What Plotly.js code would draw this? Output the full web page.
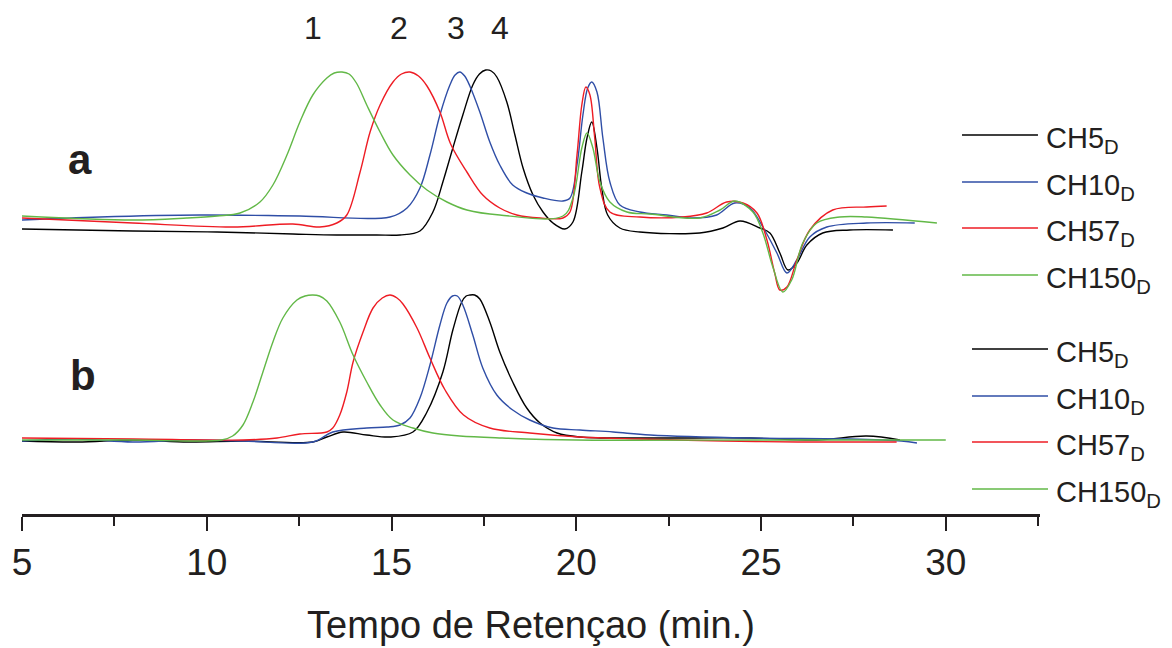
<!DOCTYPE html>
<html>
<head>
<meta charset="utf-8">
<script src="https://cdn.plot.ly/plotly-3.0.1.min.js"></script>
<style>html,body{margin:0;padding:0;background:#fff;}#chart{width:1172px;height:648px;}</style>
</head>
<body>
<div id="chart"></div>
<script>
// ---- Series names and colours ----
var seriesNames = ["CH5<sub>D</sub>", "CH10<sub>D</sub>", "CH57<sub>D</sub>", "CH150<sub>D</sub>"];
var seriesColors = ["#000000", "#2f4ea6", "#ee1c24", "#62b847"];
var peakLabels = ["1", "2", "3", "4"];
var peakLabelTimes = [12.87, 15.20, 16.74, 17.93];

// ---- Panel a (retention time in min, detector signal in a.u.) ----
var tA5 = [5.00, 8.00, 10.28, 12.33, 13.52, 14.60, 15.23, 15.77, 16.12, 16.39, 16.66, 16.93, 17.20, 17.38, 17.55, 17.70, 17.85, 18.12, 18.34, 18.56, 18.83, 19.10, 19.37, 19.69, 19.91, 20.15, 20.29, 20.42, 20.56, 20.69, 20.85, 21.18, 21.72, 23.34, 23.97, 24.43, 24.97, 25.24, 25.51, 25.73, 25.97, 26.24, 26.67, 27.40, 28.57];
var yA5 = [285, 283, 282, 280, 279, 279, 279, 283, 302, 332, 366, 399, 429, 440, 444, 443, 437, 412, 379, 346, 319, 302, 291, 285, 292, 342, 376, 392, 366, 326, 299, 286, 282, 281, 286, 293, 286, 281, 261, 244, 251, 269, 281, 284, 284];

var tA10 = [5.00, 7.11, 9.82, 12.52, 14.96, 15.42, 15.77, 16.04, 16.31, 16.58, 16.72, 16.85, 16.98, 17.12, 17.39, 17.66, 17.93, 18.28, 18.66, 19.10, 19.64, 19.83, 20.02, 20.18, 20.31, 20.42, 20.56, 20.72, 20.91, 21.18, 21.72, 22.45, 23.15, 23.80, 24.29, 24.70, 25.05, 25.43, 25.70, 25.97, 26.32, 26.78, 27.86, 29.16];
var yA10 = [294, 297, 299, 298, 297, 306, 326, 359, 399, 429, 439, 442, 438, 428, 402, 372, 349, 329, 321, 316, 313, 316, 349, 399, 426, 432, 422, 376, 332, 309, 302, 299, 296, 299, 311, 306, 287, 261, 241, 254, 277, 287, 291, 291];

var tA57 = [5.00, 8.00, 10.71, 12.33, 13.06, 13.52, 13.79, 14.15, 14.42, 14.69, 15.04, 15.27, 15.50, 15.73, 15.96, 16.31, 16.60, 17.04, 17.47, 17.93, 18.39, 19.02, 19.64, 19.83, 20.02, 20.15, 20.26, 20.37, 20.50, 20.64, 20.91, 21.72, 22.88, 23.53, 24.07, 24.51, 24.89, 25.16, 25.37, 25.51, 25.70, 25.97, 26.32, 26.94, 27.86, 28.40];
var yA57 = [296, 291, 287, 290, 287, 291, 299, 342, 382, 409, 432, 440, 442, 438, 428, 402, 370, 342, 319, 306, 299, 296, 296, 302, 359, 409, 427, 419, 376, 326, 302, 297, 297, 301, 312, 311, 301, 274, 241, 224, 227, 254, 284, 304, 307, 308];

var tA150 = [5.00, 8.00, 9.46, 10.28, 10.90, 11.44, 11.79, 12.17, 12.52, 12.87, 13.25, 13.45, 13.66, 13.85, 14.05, 14.33, 14.69, 15.04, 15.50, 15.96, 16.50, 17.04, 17.93, 19.64, 19.91, 20.15, 20.29, 20.45, 20.64, 20.91, 21.37, 21.99, 23.34, 23.89, 24.29, 24.78, 25.05, 25.32, 25.59, 25.83, 26.13, 26.51, 27.13, 27.86, 29.76];
var yA150 = [298, 294, 296, 298, 301, 312, 329, 359, 392, 419, 436, 441, 442, 440, 431, 409, 382, 359, 339, 324, 312, 304, 299, 298, 316, 366, 381, 366, 332, 312, 302, 300, 296, 304, 313, 302, 281, 247, 222, 234, 271, 291, 297, 297, 291];

// ---- Panel b ----
var tB5 = [5.00, 6.50, 8.00, 9.50, 10.98, 12.87, 13.25, 13.69, 14.33, 14.96, 15.58, 15.96, 16.39, 16.66, 16.90, 17.02, 17.12, 17.25, 17.39, 17.66, 17.93, 18.28, 18.66, 19.02, 19.48, 20.10, 21.99, 24.70, 26.51, 27.86, 28.76];
var yB5 = [73, 72, 74, 72, 73, 72, 77, 82, 79, 77, 82, 102, 142, 184, 212, 218, 219, 219, 215, 192, 162, 132, 106, 91, 81, 77, 76, 76, 74, 78, 74];

var tB10 = [5.00, 6.50, 8.00, 9.50, 10.98, 12.87, 13.41, 14.33, 14.88, 15.23, 15.50, 15.77, 16.04, 16.31, 16.50, 16.65, 16.78, 16.93, 17.20, 17.47, 17.85, 18.28, 18.74, 19.37, 20.10, 21.00, 22.00, 24.70, 27.40, 28.80, 29.22];
var yB10 = [73, 75, 72, 74, 73, 72, 82, 86, 87, 89, 96, 116, 149, 189, 211, 218, 218, 209, 179, 146, 119, 104, 94, 86, 84, 82, 79, 76, 75, 73, 71];

var tB57 = [5.00, 8.00, 10.98, 11.90, 12.52, 13.25, 13.41, 13.60, 13.79, 13.96, 14.23, 14.50, 14.75, 14.96, 15.15, 15.31, 15.69, 16.04, 16.45, 16.95, 17.66, 18.74, 20.10, 21.72, 24.00, 26.00, 28.67];
var yB57 = [76, 75, 74, 76, 80, 82, 86, 99, 122, 152, 182, 206, 216, 219, 216, 210, 186, 156, 124, 99, 86, 81, 77, 75, 73, 72, 72];

var tB150 = [5.00, 8.00, 10.40, 10.70, 10.98, 11.25, 11.52, 11.79, 12.06, 12.44, 12.66, 12.87, 13.05, 13.25, 13.60, 13.96, 14.33, 14.69, 15.04, 15.58, 16.12, 16.85, 18.00, 20.00, 25.00, 30.00];
var yB150 = [74, 74, 74, 78, 89, 112, 142, 172, 196, 214, 218, 219, 218, 213, 192, 159, 132, 109, 94, 86, 81, 78, 76, 74, 74, 74];

var panelA = [[tA5, yA5], [tA10, yA10], [tA57, yA57], [tA150, yA150]];
var panelB = [[tB5, yB5], [tB10, yB10], [tB57, yB57], [tB150, yB150]];

var FONT = "Arial, 'Liberation Sans', Helvetica, sans-serif";

var traces = [];
function addPanel(panel, tag) {
  panel.forEach(function (s, i) {
    traces.push({
      type: "scatter", mode: "lines", x: s[0], y: s[1],
      name: seriesNames[i] + " (" + tag + ")",
      line: {color: seriesColors[i], width: 1.4, shape: "spline", smoothing: 1.0},
      hoverinfo: "skip", showlegend: false
    });
  });
}
addPanel(panelA, "a");
addPanel(panelB, "b");

// ---- Legend boxes (drawn as layout shapes + annotations) ----
var legendA = {x0: 0.9234, x1: 0.998, xt: 1.004, rows: [0.7374, 0.6459, 0.5564, 0.4650]};
var legendB = {x0: 0.9332, x1: 1.0079, xt: 1.0137, rows: [0.321, 0.2296, 0.1401, 0.0486]};

var shapes = [];
var annotations = [];
[legendA, legendB].forEach(function (lg) {
  lg.rows.forEach(function (yy, i) {
    shapes.push({type: "line", xref: "paper", yref: "paper", x0: lg.x0, x1: lg.x1, y0: yy, y1: yy,
      line: {color: seriesColors[i], width: 1.4}});
    annotations.push({xref: "paper", yref: "paper", x: lg.xt, y: yy, xanchor: "left", yanchor: "middle",
      yshift: -5, text: seriesNames[i], showarrow: false, font: {family: FONT, size: 29, color: "#231f20"}});
  });
});

peakLabels.forEach(function (lab, i) {
  annotations.push({xref: "x", yref: "paper", x: peakLabelTimes[i], y: 0.9455, text: lab, showarrow: false,
    xanchor: "center", yanchor: "middle", font: {family: FONT, size: 32, color: "#231f20"}});
});
annotations.push({xref: "paper", yref: "paper", x: 0.057, y: 0.689, text: "<b>a</b>", showarrow: false,
  xanchor: "center", yanchor: "middle", font: {family: FONT, size: 42, color: "#231f20"}});
annotations.push({xref: "paper", yref: "paper", x: 0.060, y: 0.270, text: "<b>b</b>", showarrow: false,
  xanchor: "center", yanchor: "middle", font: {family: FONT, size: 42, color: "#231f20"}});

var layout = {
  width: 1172, height: 648,
  margin: {l: 22, r: 132, t: 0, b: 134},
  paper_bgcolor: "#ffffff", plot_bgcolor: "#ffffff",
  showlegend: false,
  font: {family: FONT, color: "#231f20"},
  xaxis: {
    range: [5, 32.55], showgrid: false, zeroline: false,
    showline: true, linecolor: "#231f20", linewidth: 2.5,
    ticks: "outside", ticklen: 14, tickwidth: 2, tickcolor: "#231f20",
    tick0: 5, dtick: 5,
    minor: {ticks: "outside", dtick: 2.5, ticklen: 9, tickwidth: 2, tickcolor: "#231f20"},
    tickfont: {family: FONT, size: 37, color: "#231f20"},
    title: {text: "Tempo de Retençao (min.)", font: {family: FONT, size: 38, color: "#231f20"}, standoff: 30},
    automargin: false, fixedrange: true
  },
  yaxis: {range: [0, 514], visible: false, fixedrange: true, automargin: false},
  shapes: shapes,
  annotations: annotations
};

Plotly.newPlot("chart", traces, layout, {displayModeBar: false, staticPlot: true});
</script>
</body>
</html>
